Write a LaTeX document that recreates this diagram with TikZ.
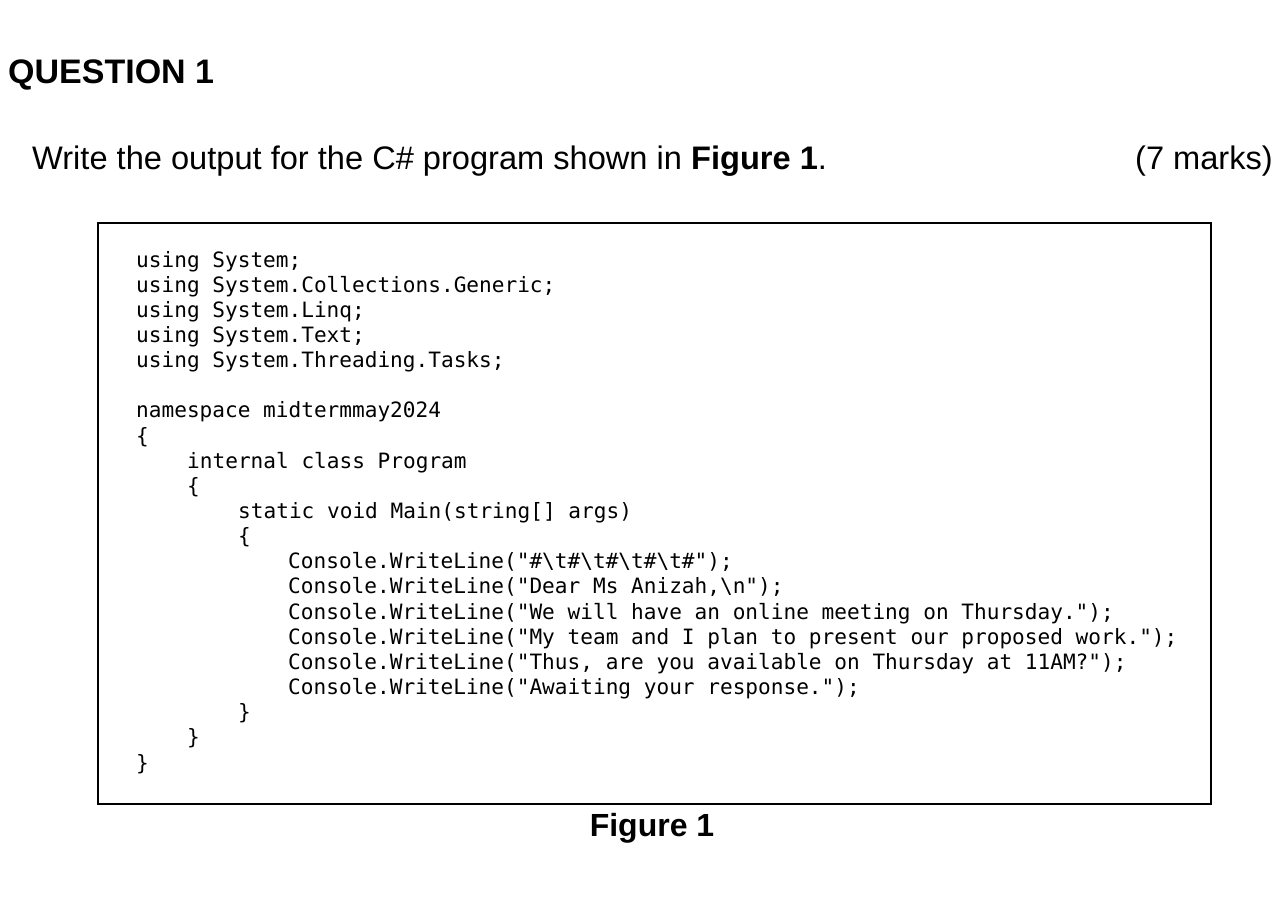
\documentclass[tikz,border=0pt]{standalone}
\usepackage{fontspec}
\setmainfont{Liberation Sans}
\newfontfamily\codefont{DejaVu Sans Mono}
\begin{document}
\begin{tikzpicture}[x=1pt,y=-1pt,
  codeline/.style={anchor=base west,inner sep=0pt,font=\codefont\fontsize{21.1}{24}\selectfont}]
\useasboundingbox (0,0) rectangle (1284,901);
\node[anchor=base west,inner sep=0pt,font=\bfseries\fontsize{34}{40}\selectfont] (q) at (8,84) {QUESTION 1};
\node[anchor=base west,inner sep=0pt,font=\fontsize{32.6}{38}\selectfont] (w) at (32,170) {Write the output for the C\# program shown in \textbf{Figure 1}.};
\node[anchor=base east,inner sep=0pt,font=\fontsize{32.6}{38}\selectfont] (m) at (1273,170) {(7 marks)};
\node[draw,line width=2pt,minimum width=1113pt,minimum height=581pt,anchor=north west,inner sep=0pt] (box) at (97,222) {};
\node[anchor=base,inner sep=0pt,font=\bfseries\fontsize{32}{38}\selectfont] (f) at (652,836) {Figure 1};
\def\bs{\textbackslash}
\def\L#1#2#3{\node[codeline] (c#1) at (#2,{267+25.15*#1}) {#3};}
\L{0}{136}{using System;}
\L{1}{136}{using System.Collections.Generic;}
\L{2}{136}{using System.Linq;}
\L{3}{136}{using System.Text;}
\L{4}{136}{using System.Threading.Tasks;}
\L{6}{136}{namespace midtermmay2024}
\L{7}{136}{\{}
\L{8}{187}{internal class Program}
\L{9}{187}{\{}
\L{10}{238}{static void Main(string[] args)}
\L{11}{238}{\{}
\L{12}{288}{Console.WriteLine("\#\bs t\#\bs t\#\bs t\#\bs t\#");}
\L{13}{288}{Console.WriteLine("Dear Ms Anizah,\bs n");}
\L{14}{288}{Console.WriteLine("We will have an online meeting on Thursday.");}
\L{15}{288}{Console.WriteLine("My team and I plan to present our proposed work.");}
\L{16}{288}{Console.WriteLine("Thus, are you available on Thursday at 11AM?");}
\L{17}{288}{Console.WriteLine("Awaiting your response.");}
\L{18}{238}{\}}
\L{19}{187}{\}}
\L{20}{136}{\}}
\end{tikzpicture}
\end{document}
